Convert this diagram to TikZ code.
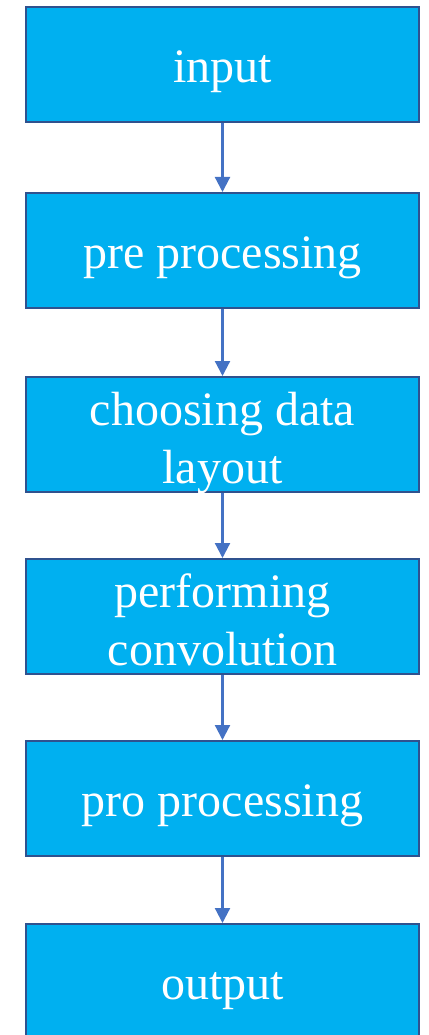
\documentclass[tikz,border=0pt]{standalone}
\usepackage{fontspec}
\setmainfont{Liberation Serif}
\usetikzlibrary{arrows.meta}
\definecolor{boxfill}{HTML}{00B0F0}
\definecolor{boxline}{HTML}{2F528F}
\definecolor{arrowc}{HTML}{4472C4}
\newcommand{\twolines}[2]{\begin{tabular}[t]{@{}c@{}}#1\\#2\end{tabular}}
\begin{document}
\begin{tikzpicture}[x=1pt,y=-1pt,
  stepbox/.style={draw=boxline, line width=2pt, fill=boxfill, minimum width=393pt, minimum height=115pt, inner sep=0pt, align=center, text=white, font=\fontsize{48}{58}\selectfont, text height=40pt, text depth=4pt},
  twobox/.style={stepbox, text height=13pt, text depth=32pt},
  flow/.style={draw=arrowc, line width=2.2pt, -{Triangle[width=15pt,length=15pt]}}]
\useasboundingbox (0,0) rectangle (428,1035);
\node[stepbox] (n1) at (222.5,64.5) {input};
\node[stepbox] (n2) at (222.5,250.5) {pre processing};
\node[twobox] (n3) at (222.5,434.5) {\twolines{choosing data}{layout}};
\node[twobox] (n4) at (222.5,616.5) {\twolines{performing}{convolution}};
\node[stepbox] (n5) at (222.5,798.5) {pro processing};
\node[stepbox] (n6) at (222.5,981.5) {output};
\draw[flow] (n1) -- (n2);
\draw[flow] (n2) -- (n3);
\draw[flow] (n3) -- (n4);
\draw[flow] (n4) -- (n5);
\draw[flow] (n5) -- (n6);
\end{tikzpicture}
\end{document}
